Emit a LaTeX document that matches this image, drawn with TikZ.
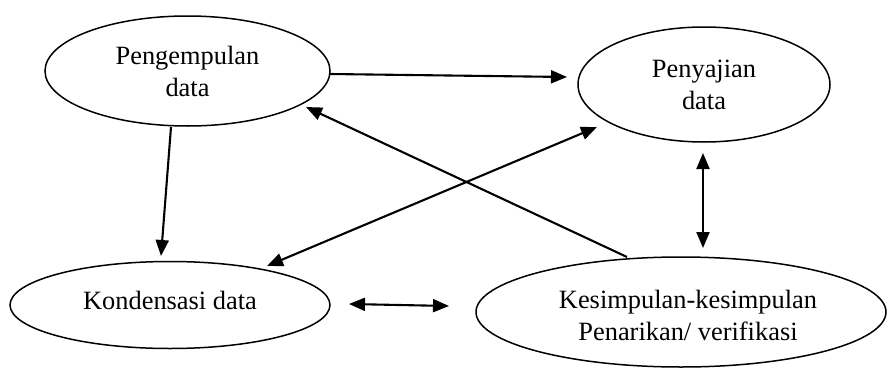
\documentclass[tikz,border=0pt]{standalone}
\usepackage{fontspec}
\setmainfont{Liberation Serif}
\usetikzlibrary{shapes.geometric,arrows.meta}
\begin{document}
\begin{tikzpicture}[x=1pt,y=-1pt,
  oval/.style={draw,ellipse,line width=1.5pt,inner sep=0pt,align=center,
    font=\fontsize{26.4}{32}\selectfont},
  tip/.style={Triangle[length=16pt,width=13pt]},
  conn/.style={line width=2.1pt,-{Triangle[length=16pt,width=13pt]}},
  bconn/.style={line width=2.1pt,{Triangle[length=16pt,width=13pt]}-{Triangle[length=16pt,width=13pt]}}]
\useasboundingbox (0,0) rectangle (891,372);
\node[oval,minimum width=285pt,minimum height=110pt] (peng) at (187.5,71) {Pengempulan\\data};
\node[oval,minimum width=252pt,minimum height=115pt] (peny) at (704,84.5) {Penyajian\\data};
\node[oval,minimum width=320pt,minimum height=87pt] (kond) at (170,305) {};
\node[font=\fontsize{26.4}{32}\selectfont] (kondt) at (170,300) {Kondensasi data};
\node[oval,minimum width=410pt,minimum height=110pt] (kes) at (681,312) {};
\node[font=\fontsize{26.4}{32}\selectfont,align=center] (kest) at (688,315) {Kesimpulan-kesimpulan\\Penarikan/ verifikasi};
\coordinate (a1s) at (330,74);
\coordinate (a1e) at (567,77);
\coordinate (a2s) at (171,127);
\coordinate (a2e) at (161,256);
\coordinate (a3s) at (627,257);
\coordinate (a3e) at (306,107);
\coordinate (a4s) at (267,266);
\coordinate (a4e) at (597,127);
\coordinate (a5s) at (703,153);
\coordinate (a5e) at (703,248);
\coordinate (a6s) at (349,304);
\coordinate (a6e) at (449,306);
\draw[conn] (a1s) -- (a1e);
\draw[conn] (a2s) -- (a2e);
\draw[conn] (a3s) -- (a3e);
\draw[bconn] (a4s) -- (a4e);
\draw[bconn] (a5s) -- (a5e);
\draw[bconn] (a6s) -- (a6e);
\end{tikzpicture}
\end{document}
